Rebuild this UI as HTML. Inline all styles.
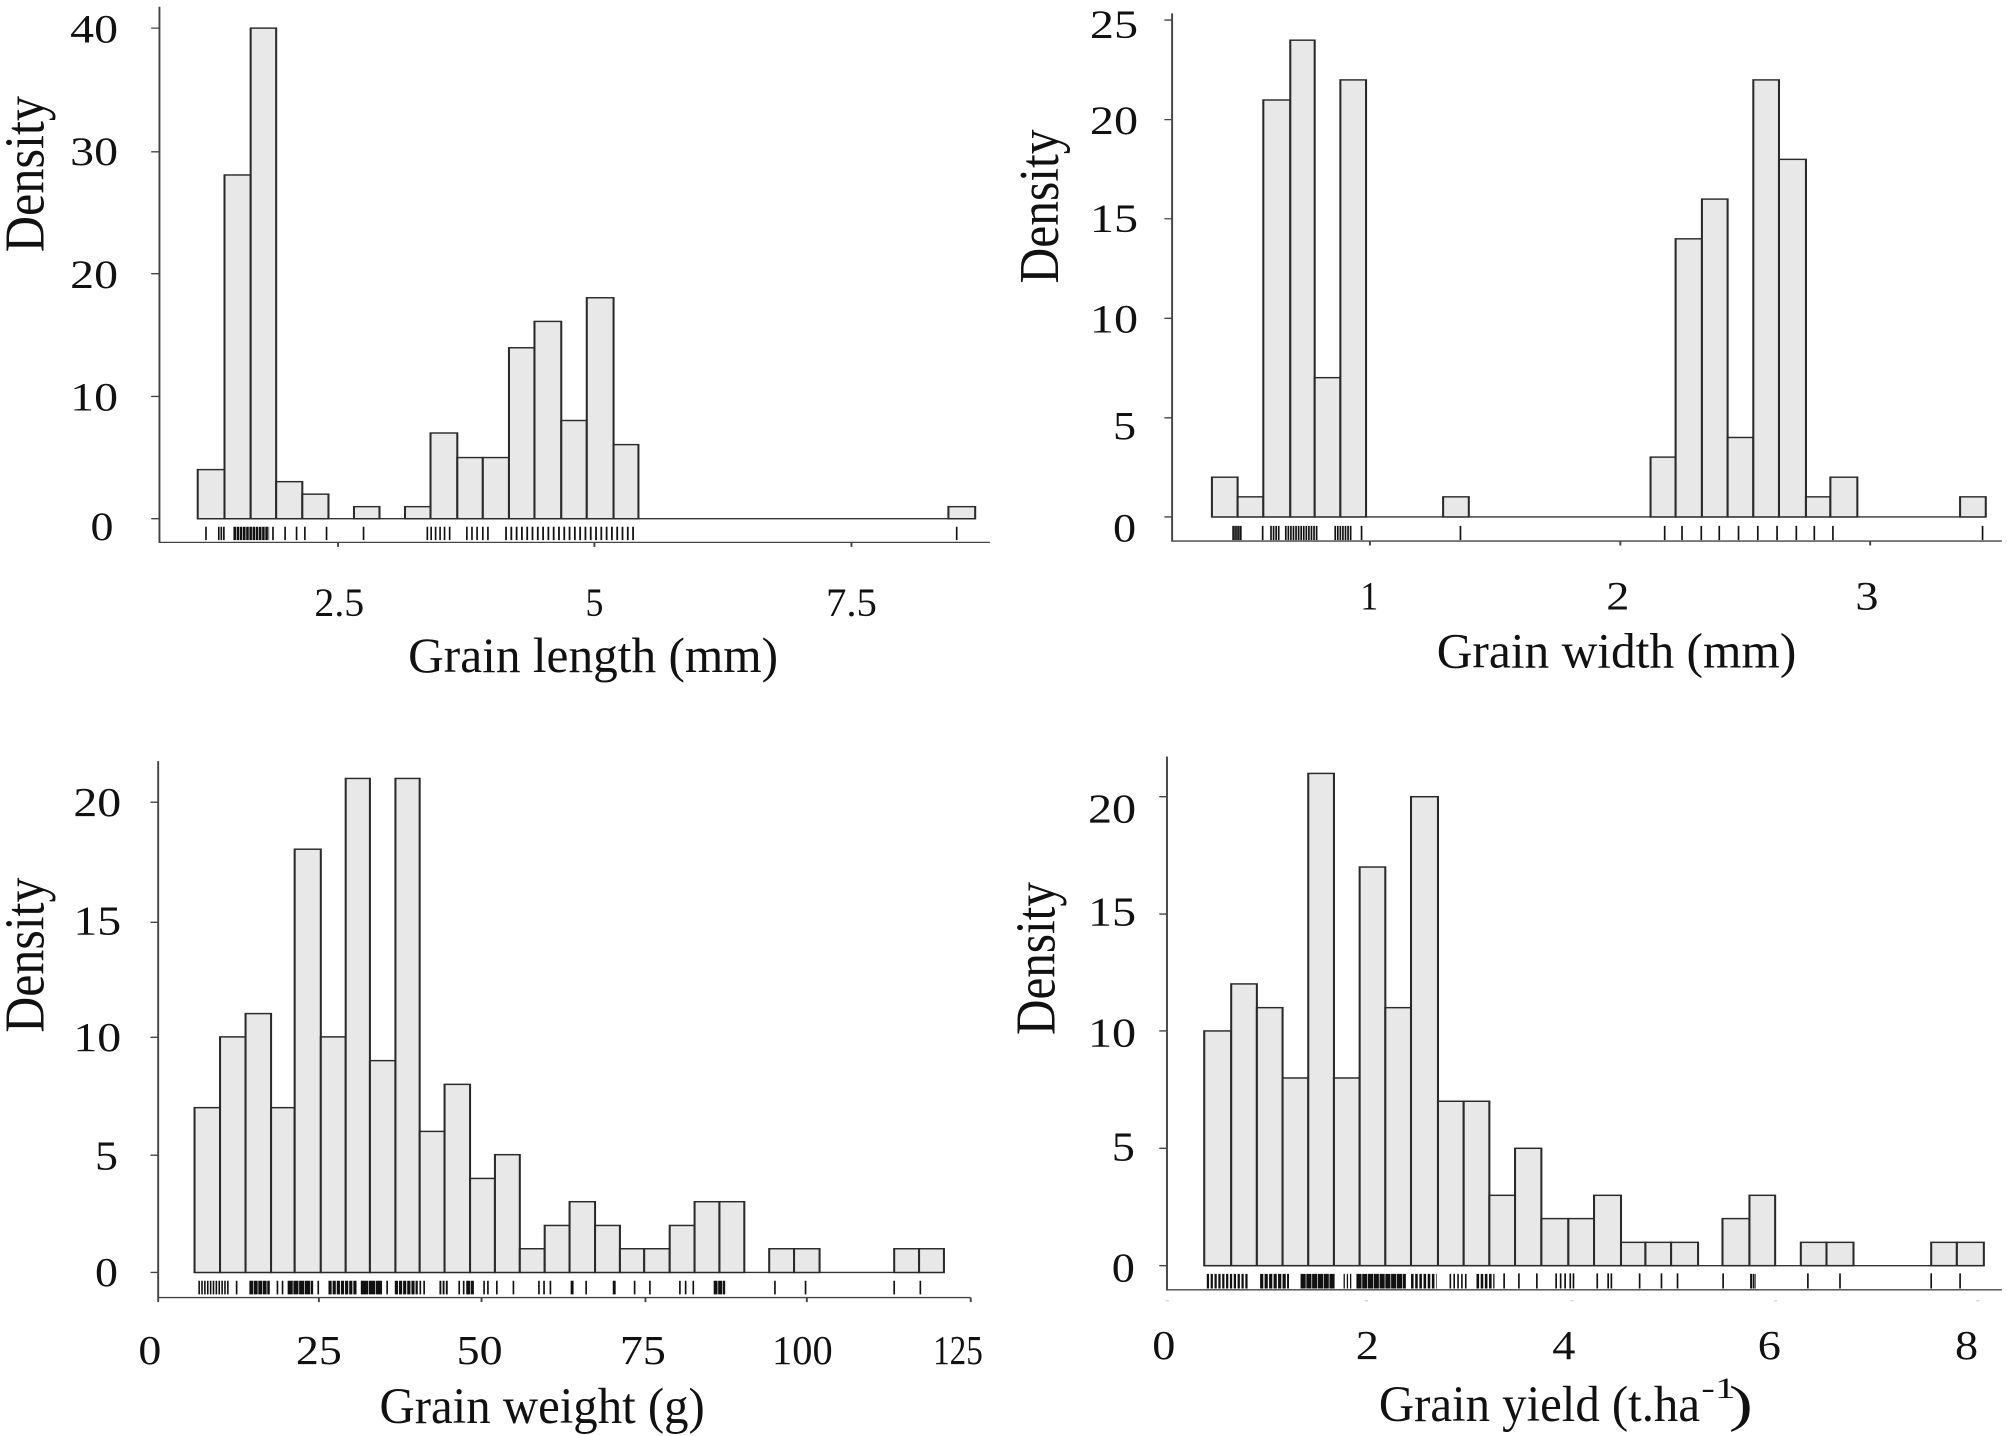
<!DOCTYPE html>
<html><head><meta charset="utf-8"><style>
html,body{margin:0;padding:0;background:#fff;overflow:hidden;}
svg{display:block;}
text{font-family:"Liberation Serif",serif;fill:#111;}
.bar{fill:#e8e8e8;stroke:#2a2a2a;stroke-width:3.2;}
.ax{stroke:#444;stroke-width:3;fill:none;}
.rug{stroke:#111;stroke-width:2.6;fill:none;}
.d{stroke:#111;fill:none;}
</style></head><body>
<svg width="2007" height="1436" viewBox="0 0 2007 1436" xmlns="http://www.w3.org/2000/svg">

<!-- Panel 1 -->
<g transform="scale(0.6378,0.4464)">
<path class="ax" d="M250 15 V1215 H1552 M237 1162 H250 M237 888 H250 M237 613 H250 M237 340 H250 M237 63 H250 M530 1215 v10 M932 1215 v10 M1335 1215 v10"/>
<line x1="310" y1="1162" x2="1529" y2="1162" stroke="#333" stroke-width="3"/>
<rect class="bar" x="310" y="1052" width="42" height="110"/>
<rect class="bar" x="352" y="392" width="41" height="770"/>
<rect class="bar" x="393" y="63" width="40" height="1099"/>
<rect class="bar" x="433" y="1079" width="41" height="83"/>
<rect class="bar" x="474" y="1107" width="41" height="55"/>
<rect class="bar" x="555" y="1135" width="40" height="27"/>
<rect class="bar" x="635" y="1135" width="40" height="27"/>
<rect class="bar" x="675" y="970" width="42" height="192"/>
<rect class="bar" x="717" y="1025" width="40" height="137"/>
<rect class="bar" x="757" y="1025" width="41" height="137"/>
<rect class="bar" x="798" y="779" width="40" height="383"/>
<rect class="bar" x="838" y="720" width="42" height="442"/>
<rect class="bar" x="880" y="942" width="40" height="220"/>
<rect class="bar" x="920" y="667" width="42" height="495"/>
<rect class="bar" x="962" y="996" width="39" height="166"/>
<rect class="bar" x="1487" y="1135" width="42" height="27"/>
<path class="rug" d="M323 1180v30M343 1180v30M347 1180v30M351 1180v30M428 1180v30M447 1180v30M465 1180v30M478 1180v30M512 1180v30M570 1180v30M670 1180v30M676 1180v30M683 1180v30M690 1180v30M697 1180v30M705 1180v30M732 1180v30M740 1180v30M748 1180v30M757 1180v30M765 1180v30M1500 1180v30"/>
<line class="d" x1="366" y1="1195" x2="422" y2="1195" stroke-width="30" stroke-dasharray="4 1"/>
<line class="d" x1="792" y1="1195" x2="998" y2="1195" stroke-width="30" stroke-dasharray="2.8 5.5"/>
<g font-size="90" text-anchor="end">
<text x="185" y="95" textLength="75" lengthAdjust="spacingAndGlyphs">40</text>
<text x="185" y="370" textLength="75" lengthAdjust="spacingAndGlyphs">30</text>
<text x="185" y="645" textLength="75" lengthAdjust="spacingAndGlyphs">20</text>
<text x="185" y="920" textLength="75" lengthAdjust="spacingAndGlyphs">10</text>
<text x="178" y="1210" textLength="36" lengthAdjust="spacingAndGlyphs">0</text>
</g>
<g font-size="90" text-anchor="middle">
<text x="532" y="1380" textLength="78" lengthAdjust="spacingAndGlyphs">2.5</text><text x="932" y="1380" textLength="28" lengthAdjust="spacingAndGlyphs">5</text><text x="1335" y="1380" textLength="80" lengthAdjust="spacingAndGlyphs">7.5</text>
</g>
<text x="640" y="1505" font-size="112" textLength="580" lengthAdjust="spacingAndGlyphs">Grain length (mm)</text>
<text transform="translate(68,565) rotate(-90)" font-size="88" textLength="350" lengthAdjust="spacingAndGlyphs">Density</text>
</g>

<!-- Panel 3 -->
<g transform="translate(0,720) scale(0.6378,0.4566)">
<path class="ax" d="M248 90 V1265 H1522 M236 1210 H248 M236 953 H248 M236 695 H248 M236 443 H248 M236 180 H248 M248 1265 v10 M500 1265 v10 M755 1265 v10 M1012 1265 v10 M1265 1265 v10 M1522 1265 v10"/>
<line x1="305" y1="1210" x2="1480" y2="1210" stroke="#333" stroke-width="3"/>
<g>
<rect class="bar" x="305" y="849" width="40" height="361"/>
<rect class="bar" x="345" y="694" width="40" height="516"/>
<rect class="bar" x="385" y="643" width="40" height="567"/>
<rect class="bar" x="425" y="849" width="37" height="361"/>
<rect class="bar" x="462" y="283" width="41" height="927"/>
<rect class="bar" x="503" y="694" width="39" height="516"/>
<rect class="bar" x="542" y="128" width="38" height="1082"/>
<rect class="bar" x="580" y="746" width="40" height="464"/>
<rect class="bar" x="620" y="128" width="38" height="1082"/>
<rect class="bar" x="658" y="901" width="39" height="309"/>
<rect class="bar" x="697" y="798" width="40" height="412"/>
<rect class="bar" x="737" y="1004" width="39" height="206"/>
<rect class="bar" x="776" y="952" width="39" height="258"/>
<rect class="bar" x="815" y="1158" width="39" height="52"/>
<rect class="bar" x="854" y="1107" width="39" height="103"/>
<rect class="bar" x="893" y="1055" width="40" height="155"/>
<rect class="bar" x="933" y="1107" width="39" height="103"/>
<rect class="bar" x="972" y="1158" width="38" height="52"/>
<rect class="bar" x="1010" y="1158" width="40" height="52"/>
<rect class="bar" x="1050" y="1107" width="39" height="103"/>
<rect class="bar" x="1089" y="1055" width="39" height="155"/>
<rect class="bar" x="1128" y="1055" width="39" height="155"/>
<rect class="bar" x="1206" y="1158" width="39" height="52"/>
<rect class="bar" x="1245" y="1158" width="40" height="52"/>
<rect class="bar" x="1402" y="1158" width="39" height="52"/>
<rect class="bar" x="1441" y="1158" width="39" height="52"/>
</g>
<g stroke-width="30" class="d">
<line x1="311" y1="1243" x2="359" y2="1243" stroke-dasharray="2.5 2"/>
<line x1="391" y1="1243" x2="423" y2="1243" stroke-dasharray="6 1"/>
<line x1="451" y1="1243" x2="491" y2="1243" stroke-dasharray="8 1"/>
<line x1="515" y1="1243" x2="559" y2="1243" stroke-dasharray="5 1.5"/>
<line x1="567" y1="1243" x2="599" y2="1243" stroke-dasharray="10 1"/>
<line x1="619" y1="1243" x2="655" y2="1243" stroke-dasharray="5 1.5"/>
<line x1="689" y1="1243" x2="703" y2="1243" stroke-dasharray="3 2"/>
<line x1="731" y1="1243" x2="743" y2="1243" stroke-dasharray="6 1"/>
<line x1="1119" y1="1243" x2="1137" y2="1243" stroke-dasharray="6 1"/>
</g>
<path class="rug" d="M371 1228v30M435 1228v30M443 1228v30M499 1228v30M567 1228v30M607 1228v30M659 1228v30M665 1228v30M720 1228v30M727 1228v30M759 1228v30M765 1228v30M779 1228v30M805 1228v30M845 1228v30M853 1228v30M863 1228v30M896 1228v30M898 1228v30M919 1228v30M962 1228v30M964 1228v30M995 1228v30M1019 1228v30M1066 1228v30M1075 1228v30M1087 1228v30M1215 1228v30M1263 1228v30M1402 1228v30M1443 1228v30"/>
<g font-size="90" text-anchor="end">
<text x="190" y="210" textLength="75" lengthAdjust="spacingAndGlyphs">20</text>
<text x="190" y="470" textLength="75" lengthAdjust="spacingAndGlyphs">15</text>
<text x="190" y="725" textLength="75" lengthAdjust="spacingAndGlyphs">10</text>
<text x="185" y="985" textLength="36" lengthAdjust="spacingAndGlyphs">5</text>
<text x="185" y="1240" textLength="36" lengthAdjust="spacingAndGlyphs">0</text>
</g>
<g font-size="90" text-anchor="middle">
<text x="235" y="1410" textLength="36" lengthAdjust="spacingAndGlyphs">0</text>
<text x="500" y="1410" textLength="72" lengthAdjust="spacingAndGlyphs">25</text>
<text x="752" y="1410" textLength="72" lengthAdjust="spacingAndGlyphs">50</text>
<text x="1008" y="1410" textLength="72" lengthAdjust="spacingAndGlyphs">75</text>
<text x="1258" y="1410" textLength="95" lengthAdjust="spacingAndGlyphs">100</text>
<text x="1502" y="1410" textLength="78" lengthAdjust="spacingAndGlyphs">125</text>
</g>
<text x="595" y="1540" font-size="112" textLength="510" lengthAdjust="spacingAndGlyphs">Grain weight (g)</text>
<text transform="translate(68,685) rotate(-90)" font-size="88" textLength="340" lengthAdjust="spacingAndGlyphs">Density</text>
</g>

<!-- Panel 2 -->
<g transform="translate(1000,0) scale(0.6422,0.4464)">
<path class="ax" d="M268 30 V1212 H1560 M256 1158 H268 M256 936 H268 M256 713 H268 M256 490 H268 M256 268 H268 M256 45 H268 M576 1212 v10 M966 1212 v10 M1355 1212 v10"/>
<line x1="330" y1="1158" x2="1535" y2="1158" stroke="#333" stroke-width="3"/>
<rect class="bar" x="330" y="1069" width="40" height="89"/>
<rect class="bar" x="370" y="1113" width="40" height="45"/>
<rect class="bar" x="410" y="224" width="42" height="934"/>
<rect class="bar" x="452" y="90" width="38" height="1068"/>
<rect class="bar" x="490" y="846" width="40" height="312"/>
<rect class="bar" x="530" y="179" width="40" height="979"/>
<rect class="bar" x="690" y="1113" width="40" height="45"/>
<rect class="bar" x="1013" y="1024" width="39" height="134"/>
<rect class="bar" x="1052" y="535" width="41" height="623"/>
<rect class="bar" x="1093" y="446" width="40" height="712"/>
<rect class="bar" x="1133" y="980" width="40" height="178"/>
<rect class="bar" x="1173" y="179" width="40" height="979"/>
<rect class="bar" x="1213" y="357" width="42" height="801"/>
<rect class="bar" x="1255" y="1113" width="38" height="45"/>
<rect class="bar" x="1293" y="1069" width="42" height="89"/>
<rect class="bar" x="1495" y="1113" width="40" height="45"/>
<path class="rug" d="M363 1178v32M366 1178v32M369 1178v32M372 1178v32M375 1178v32M409 1178v32M422 1178v32M426 1178v32M430 1178v32M434 1178v32M445 1178v32M449 1178v32M453 1178v32M457 1178v32M461 1178v32M465 1178v32M469 1178v32M473 1178v32M477 1178v32M481 1178v32M485 1178v32M489 1178v32M493 1178v32M522 1178v32M526 1178v32M530 1178v32M534 1178v32M538 1178v32M542 1178v32M546 1178v32M563 1178v32M717 1178v32M1035 1178v32M1062 1178v32M1092 1178v32M1120 1178v32M1150 1178v32M1180 1178v32M1210 1178v32M1240 1178v32M1268 1178v32M1297 1178v32M1530 1178v32"/>
<g font-size="90" text-anchor="end">
<text x="215" y="85" textLength="75" lengthAdjust="spacingAndGlyphs">25</text>
<text x="215" y="300" textLength="75" lengthAdjust="spacingAndGlyphs">20</text>
<text x="215" y="520" textLength="75" lengthAdjust="spacingAndGlyphs">15</text>
<text x="215" y="745" textLength="75" lengthAdjust="spacingAndGlyphs">10</text>
<text x="212" y="985" textLength="36" lengthAdjust="spacingAndGlyphs">5</text>
<text x="212" y="1213" textLength="36" lengthAdjust="spacingAndGlyphs">0</text>
</g>
<g font-size="90" text-anchor="middle">
<text x="575" y="1365" textLength="28" lengthAdjust="spacingAndGlyphs">1</text>
<text x="962" y="1365" textLength="36" lengthAdjust="spacingAndGlyphs">2</text>
<text x="1350" y="1365" textLength="36" lengthAdjust="spacingAndGlyphs">3</text>
</g>
<text x="680" y="1495" font-size="112" textLength="560" lengthAdjust="spacingAndGlyphs">Grain width (mm)</text>
<text transform="translate(90,635) rotate(-90)" font-size="88" textLength="345" lengthAdjust="spacingAndGlyphs">Density</text>
</g>

<!-- Panel 4 -->
<g transform="translate(1000,720) scale(0.6422,0.4566)">
<path class="ax" d="M260 80 V1248 H1560 M248 1195 H260 M248 938 H260 M248 681 H260 M248 425 H260 M248 168 H260"/>
<path d="M258 1272h5M568 1272h5M888 1272h5M1205 1272h5M1520 1272h5" stroke="#bbb" stroke-width="2"/>
<line x1="318" y1="1195" x2="1532" y2="1195" stroke="#333" stroke-width="3"/>
<rect class="bar" x="318" y="681" width="42" height="514"/>
<rect class="bar" x="360" y="578" width="40" height="617"/>
<rect class="bar" x="400" y="630" width="40" height="565"/>
<rect class="bar" x="440" y="784" width="40" height="411"/>
<rect class="bar" x="480" y="117" width="40" height="1078"/>
<rect class="bar" x="520" y="784" width="40" height="411"/>
<rect class="bar" x="560" y="322" width="40" height="873"/>
<rect class="bar" x="600" y="630" width="40" height="565"/>
<rect class="bar" x="640" y="168" width="42" height="1027"/>
<rect class="bar" x="682" y="835" width="40" height="360"/>
<rect class="bar" x="722" y="835" width="40" height="360"/>
<rect class="bar" x="762" y="1041" width="40" height="154"/>
<rect class="bar" x="802" y="938" width="41" height="257"/>
<rect class="bar" x="843" y="1092" width="42" height="103"/>
<rect class="bar" x="885" y="1092" width="40" height="103"/>
<rect class="bar" x="925" y="1041" width="42" height="154"/>
<rect class="bar" x="967" y="1144" width="38" height="51"/>
<rect class="bar" x="1005" y="1144" width="40" height="51"/>
<rect class="bar" x="1045" y="1144" width="42" height="51"/>
<rect class="bar" x="1125" y="1092" width="42" height="103"/>
<rect class="bar" x="1167" y="1041" width="40" height="154"/>
<rect class="bar" x="1247" y="1144" width="40" height="51"/>
<rect class="bar" x="1287" y="1144" width="42" height="51"/>
<rect class="bar" x="1450" y="1144" width="40" height="51"/>
<rect class="bar" x="1490" y="1144" width="42" height="51"/>
<g stroke-width="32" class="d">
<line x1="322" y1="1229" x2="388" y2="1229" stroke-dasharray="3.5 2.5"/>
<line x1="405" y1="1229" x2="450" y2="1229" stroke-dasharray="5 2"/>
<line x1="468" y1="1229" x2="522" y2="1229" stroke-dasharray="8 1"/>
<line x1="535" y1="1229" x2="550" y2="1229" stroke-dasharray="2 3"/>
<line x1="555" y1="1229" x2="632" y2="1229" stroke-dasharray="8 1"/>
<line x1="640" y1="1229" x2="680" y2="1229" stroke-dasharray="4 2.5"/>
<line x1="700" y1="1229" x2="730" y2="1229" stroke-dasharray="2.5 3.5"/>
<line x1="742" y1="1229" x2="770" y2="1229" stroke-dasharray="4 2.5"/>
<line x1="1168" y1="1229" x2="1177" y2="1229" stroke-dasharray="3 1"/>
</g>
<path class="rug" d="M785 1212v33M808 1212v33M836 1212v33M866 1212v33M873 1212v33M880 1212v33M888 1212v33M893 1212v33M930 1212v33M947 1212v33M952 1212v33M996 1212v33M1030 1212v33M1055 1212v33M1126 1212v33M1258 1212v33M1308 1212v33M1450 1212v33M1495 1212v33"/>
<g font-size="90" text-anchor="end">
<text x="212" y="225" textLength="75" lengthAdjust="spacingAndGlyphs">20</text>
<text x="212" y="450" textLength="75" lengthAdjust="spacingAndGlyphs">15</text>
<text x="212" y="715" textLength="75" lengthAdjust="spacingAndGlyphs">10</text>
<text x="210" y="965" textLength="36" lengthAdjust="spacingAndGlyphs">5</text>
<text x="210" y="1230" textLength="36" lengthAdjust="spacingAndGlyphs">0</text>
</g>
<g font-size="90" text-anchor="middle">
<text x="255" y="1400" textLength="36" lengthAdjust="spacingAndGlyphs">0</text>
<text x="572" y="1400" textLength="36" lengthAdjust="spacingAndGlyphs">2</text>
<text x="878" y="1400" textLength="36" lengthAdjust="spacingAndGlyphs">4</text>
<text x="1198" y="1400" textLength="36" lengthAdjust="spacingAndGlyphs">6</text>
<text x="1505" y="1400" textLength="36" lengthAdjust="spacingAndGlyphs">8</text>
</g>
<text x="590" y="1535" font-size="112" textLength="500" lengthAdjust="spacingAndGlyphs">Grain yield (t.ha</text>
<text x="1092" y="1485" font-size="64">-1</text>
<text x="1135" y="1535" font-size="112">)</text>
<text transform="translate(85,690) rotate(-90)" font-size="88" textLength="335" lengthAdjust="spacingAndGlyphs">Density</text>
</g>
</svg>
</body></html>
